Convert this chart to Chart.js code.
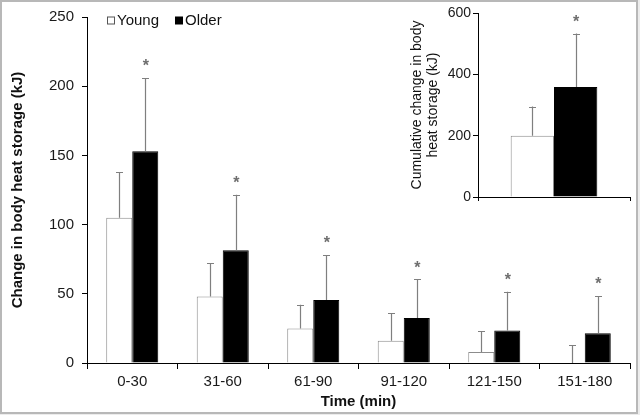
<!DOCTYPE html>
<html>
<head>
<meta charset="utf-8">
<script src="https://cdn.jsdelivr.net/npm/chart.js@4.4.1/dist/chart.umd.min.js"></script>
<style>
  html, body { margin: 0; padding: 0; background: #ececec; }
  #wrap { position: relative; width: 640px; height: 415px; }
  #frame { position: absolute; left: 0; top: 0; width: 638px; height: 414px; box-sizing: border-box; border: 2px solid #b8b8b8; background: #fff; }
  #main { position: absolute; left: 0; top: 0; }
  #inset { position: absolute; left: 400px; top: 0; }
</style>
</head>
<body>
<div id="wrap">
  <div id="frame"></div>
  <canvas id="main" width="640" height="415"></canvas>
  <canvas id="inset" width="236" height="210"></canvas>
</div>
<script>
// ---- Data ----
const categories = ['0-30', '31-60', '61-90', '91-120', '121-150', '151-180'];
const seriesNames = ['Young', 'Older'];
const youngMean = [105, 48, 25, 16, 8, 0];
const youngErr  = [33, 24, 17, 20, 15, 13];
const olderMean = [153, 81.5, 45.5, 32.5, 23.5, 21.5];
const olderErr  = [53, 40, 32.5, 28, 28, 27];
const olderSig  = [true, true, true, true, true, true];
const yTicksMain = [0, 50, 100, 150, 200, 250];

const cumCategories = [''];
const cumYoungMean = [200];
const cumYoungErr  = [95];
const cumOlderMean = [359];
const cumOlderErr  = [174];
const cumOlderSig  = [true];
const yTicksInset = [0, 200, 400, 600];

const FONT = "'Liberation Sans', Arial, sans-serif";
const ERR_COLOR = '#7f7f7f';

// Error bars + significance stars
const errorBarPlugin = {
  id: 'errorBars',
  afterDatasetsDraw(chart) {
    const ctx = chart.ctx;
    const y = chart.scales.y;
    ctx.save();
    chart.data.datasets.forEach((ds, di) => {
      const meta = chart.getDatasetMeta(di);
      meta.data.forEach((bar, i) => {
        const v = ds.data[i];
        const e = ds.errors[i];
        const x = bar.x;
        const y0 = y.getPixelForValue(v);
        const y1 = y.getPixelForValue(v + e);
        ctx.strokeStyle = ERR_COLOR;
        ctx.lineWidth = 1.2;
        ctx.beginPath();
        ctx.moveTo(Math.round(x) + 0.5, y0);
        ctx.lineTo(Math.round(x) + 0.5, y1);
        ctx.moveTo(Math.round(x) - 3, Math.round(y1) + 0.5);
        ctx.lineTo(Math.round(x) + 4, Math.round(y1) + 0.5);
        ctx.stroke();
        if (ds.sig && ds.sig[i]) {
          ctx.fillStyle = '#6e6e6e';
          ctx.font = 'bold 16px ' + FONT;
          ctx.textAlign = 'center';
          ctx.textBaseline = 'middle';
          ctx.fillText('*', x + 0.5, y1 - 11);
        }
      });
    });
    ctx.restore();
  }
};

// Inline legend drawn at top-left of the plot area
const inlineLegendPlugin = {
  id: 'inlineLegend',
  afterDraw(chart, args, opts) {
    if (!opts || !opts.show) return;
    const ctx = chart.ctx;
    ctx.save();
    ctx.font = '15px ' + FONT;
    ctx.textBaseline = 'middle';
    ctx.textAlign = 'left';
    let x = opts.x;
    const yc = opts.y;
    chart.data.datasets.forEach((ds) => {
      const s = 7;
      ctx.fillStyle = ds.backgroundColor;
      ctx.fillRect(x + 0.5, yc - s / 2 + 0.5, s, s);
      ctx.strokeStyle = ds.legendBorder;
      ctx.lineWidth = 1;
      ctx.strokeRect(x + 0.5, yc - s / 2 + 0.5, s, s);
      ctx.fillStyle = '#111';
      ctx.fillText(ds.label, x + s + 3, yc + 1);
      x += s + 3 + ctx.measureText(ds.label).width + 16;
    });
    ctx.restore();
  }
};

const axisCommon = (extra) => Object.assign({
  grid: { display: true, drawOnChartArea: false, drawTicks: true, tickLength: 5, color: '#000', lineWidth: 1 },
  border: { display: true, color: '#000', width: 1 }
}, extra);

new Chart(document.getElementById('main'), {
  type: 'bar',
  data: {
    labels: categories,
    datasets: [
      { label: seriesNames[0], data: youngMean, errors: youngErr, sig: null,
        backgroundColor: '#ffffff', borderColor: '#8c8c8c', borderWidth: 1, legendBorder: '#555',
        categoryPercentage: 0.575, barPercentage: 1.0 },
      { label: seriesNames[1], data: olderMean, errors: olderErr, sig: olderSig,
        backgroundColor: '#000000', borderColor: '#000000', borderWidth: 1, legendBorder: '#000',
        categoryPercentage: 0.575, barPercentage: 1.0 }
    ]
  },
  options: {
    responsive: false,
    animation: false,
    events: [],
    layout: { padding: { left: 0, right: 10, top: 13, bottom: 0 } },
    plugins: {
      legend: { display: false },
      tooltip: { enabled: false },
      inlineLegend: { show: true, x: 107, y: 20 }
    },
    scales: {
      x: axisCommon({
        grid: { display: true, drawOnChartArea: false, drawTicks: true, tickLength: 6, color: '#000', offset: true },
        ticks: { font: { family: FONT, size: 15 }, color: '#1a1a1a', padding: 4, maxRotation: 0 },
        title: { display: true, text: 'Time (min)', font: { family: FONT, size: 15, weight: 'bold' }, color: '#111', padding: { top: 0, bottom: 4 } },
        afterFit(scale) { scale.height = 52; }
      }),
      y: axisCommon({
        min: 0, max: 250,
        afterBuildTicks(scale) { scale.ticks = yTicksMain.map(v => ({ value: v })); },
        ticks: { font: { family: FONT, size: 15 }, color: '#1a1a1a', padding: 8 },
        title: { display: true, text: 'Change in body heat storage (kJ)', font: { family: FONT, size: 15, weight: 'bold' }, color: '#111', padding: { top: 9, bottom: 0 } },
        afterFit(scale) { scale.width = 87; }
      })
    }
  },
  plugins: [errorBarPlugin, inlineLegendPlugin]
});

new Chart(document.getElementById('inset'), {
  type: 'bar',
  data: {
    labels: cumCategories,
    datasets: [
      { label: seriesNames[0], data: cumYoungMean, errors: cumYoungErr, sig: null,
        backgroundColor: '#ffffff', borderColor: '#8c8c8c', borderWidth: 1,
        categoryPercentage: 0.57, barPercentage: 1.0 },
      { label: seriesNames[1], data: cumOlderMean, errors: cumOlderErr, sig: cumOlderSig,
        backgroundColor: '#000000', borderColor: '#000000', borderWidth: 1,
        categoryPercentage: 0.57, barPercentage: 1.0 }
    ]
  },
  options: {
    responsive: false,
    animation: false,
    events: [],
    layout: { padding: { left: 0, right: 6, top: 13, bottom: 0 } },
    plugins: { legend: { display: false }, tooltip: { enabled: false } },
    scales: {
      x: axisCommon({
        grid: { display: true, drawOnChartArea: false, drawTicks: true, tickLength: 4, color: '#000', offset: true },
        ticks: { display: true, font: { family: FONT, size: 1 }, padding: 0 },
        afterFit(scale) { scale.height = 13; }
      }),
      y: axisCommon({
        min: 0, max: 600,
        afterBuildTicks(scale) { scale.ticks = yTicksInset.map(v => ({ value: v })); },
        grid: { display: true, drawOnChartArea: false, drawTicks: true, tickLength: 5, color: '#000' },
        ticks: { font: { family: FONT, size: 14 }, color: '#1a1a1a', padding: 2 },
        title: { display: true, text: ['Cumulative change in body', 'heat storage (kJ)'], font: { family: FONT, size: 14, lineHeight: 1.15 }, color: '#111', padding: { top: 9, bottom: 0 } },
        afterFit(scale) { scale.width = 78; }
      })
    }
  },
  plugins: [errorBarPlugin]
});
</script>
</body>
</html>
